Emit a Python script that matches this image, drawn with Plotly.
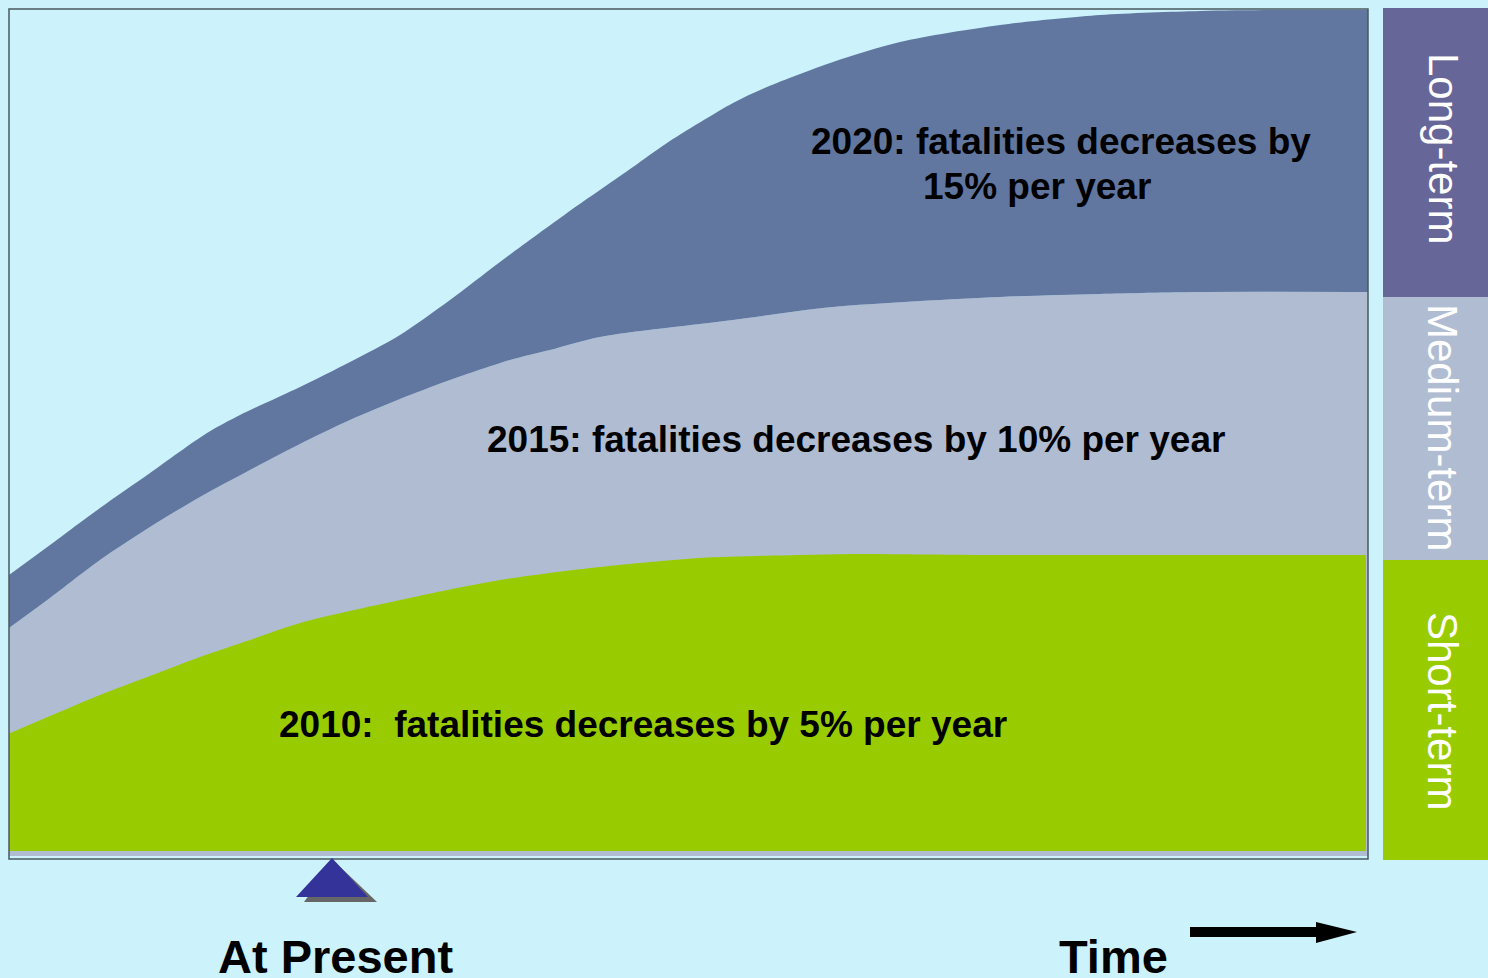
import plotly.graph_objects as go

W, H = 1488, 978

# ---- data (time index vs. level of fatality reduction) ----
time_long = [9, 50, 100, 150, 207, 240, 300, 350, 400, 450, 500, 567, 633, 667, 733, 767, 833, 900, 1000, 1100, 1200, 1280, 1368]
level_long = [284, 314, 351, 386, 426, 444, 472, 497, 524, 559, 597, 646, 692, 716, 756, 772, 797, 817, 834, 844, 848, 849, 849]

time_medium = [9, 50, 100, 150, 200, 250, 300, 350, 400, 450, 510, 550, 600, 733, 833, 1000, 1100, 1200, 1368]
level_medium = [231, 261, 299, 332, 362, 389, 415, 439, 460, 479, 499, 509, 522, 539, 552, 562, 565, 567, 567]
medium_base = 3

time_short = [8, 50, 100, 150, 200, 250, 300, 400, 500, 600, 700, 800, 850, 1000, 1200, 1366]
level_short = [125, 143, 164, 183, 202, 219, 236, 259, 279, 292, 301, 304, 305, 304, 304, 304]
short_base = 8

layer_labels = [
    "2020: fatalities decreases by",
    "15% per year",
    "2015: fatalities decreases by 10% per year",
    "2010:  fatalities decreases by 5% per year",
]
term_labels = ["Long-term", "Medium-term", "Short-term"]
axis_labels = ["At Present", "Time"]

# ---- colours ----
BG = "#CCF3FC"
C_LONG = "#6277A0"
C_MED = "#B0BCD2"
C_SHORT = "#99CC00"
C_PURPLE = "#666699"

fig = go.Figure()

def base_trace(xs, yv):
    return go.Scatter(x=[xs[0], xs[-1]], y=[yv, yv], mode="lines",
                      line=dict(width=0), hoverinfo="skip", showlegend=False)

def band_trace(xs, ys, color):
    return go.Scatter(x=xs, y=ys, mode="lines", fill="tonexty", fillcolor=color,
                      line=dict(width=0, shape="spline", smoothing=0.8),
                      hoverinfo="skip", showlegend=False)

# medium band (from its base up to medium top), then long band on top of it
fig.add_trace(base_trace(time_medium, medium_base))
fig.add_trace(band_trace(time_medium, level_medium, C_MED))
fig.add_trace(band_trace(time_long, level_long, C_LONG))
# short band
fig.add_trace(base_trace(time_short, short_base))
fig.add_trace(band_trace(time_short, level_short, C_SHORT))

def px(x):
    return x / W

def py(y):
    return 1 - y / H

shapes = []
# plot frame
shapes.append(dict(type="rect", xref="paper", yref="paper",
                   x0=px(9), x1=px(1368), y0=py(859), y1=py(9),
                   line=dict(color="#48585e", width=1.5), fillcolor="rgba(0,0,0,0)", layer="above"))
# right-side term bars
shapes.append(dict(type="rect", xref="paper", yref="paper", x0=px(1383), x1=1.0, y0=py(297), y1=py(8),
                   fillcolor=C_PURPLE, line=dict(width=0)))
shapes.append(dict(type="rect", xref="paper", yref="paper", x0=px(1383), x1=1.0, y0=py(560), y1=py(297),
                   fillcolor=C_MED, line=dict(width=0)))
shapes.append(dict(type="rect", xref="paper", yref="paper", x0=px(1383), x1=1.0, y0=py(860), y1=py(560),
                   fillcolor=C_SHORT, line=dict(width=0)))

def tri_path(pts):
    s = "M {} {}".format(px(pts[0][0]), py(pts[0][1]))
    for p in pts[1:]:
        s += " L {} {}".format(px(p[0]), py(p[1]))
    return s + " Z"

# triangle marker with shadow
shapes.append(dict(type="path", xref="paper", yref="paper",
                   path=tri_path([(334, 861), (304, 902), (377, 902)]),
                   fillcolor="#666666", line=dict(width=0)))
shapes.append(dict(type="path", xref="paper", yref="paper",
                   path=tri_path([(332, 858), (296, 897), (368, 897)]),
                   fillcolor="#333399", line=dict(width=0)))
# time arrow
shapes.append(dict(type="path", xref="paper", yref="paper",
                   path=tri_path([(1190, 927), (1316, 927), (1316, 922), (1357, 932),
                                  (1316, 943), (1316, 937), (1190, 937)]),
                   fillcolor="#000000", line=dict(width=0)))

FONT = "Liberation Sans, Arial, sans-serif"
ann = []
def add_text(text, x, y, size, color="#000000", bold=True, angle=0):
    ann.append(dict(text="<b>{}</b>".format(text) if bold else text,
                    x=px(x), y=py(y), xref="paper", yref="paper",
                    xanchor="center", yanchor="middle", showarrow=False,
                    textangle=angle,
                    font=dict(family=FONT, size=size, color=color)))

add_text(layer_labels[0], 1061, 141, 37)
add_text(layer_labels[1], 1037, 186, 37)
add_text(layer_labels[2], 856, 440, 37)
add_text(layer_labels[3], 643, 724, 37)

add_text(term_labels[0], 1443, 148, 42, color="#FFFFFF", bold=False, angle=90)
add_text(term_labels[1], 1443, 427, 42, color="#FFFFFF", bold=False, angle=90)
add_text(term_labels[2], 1443, 711, 42, color="#FFFFFF", bold=False, angle=90)

add_text(axis_labels[0], 335, 956, 47)
add_text(axis_labels[1], 1113, 956, 47)

fig.update_layout(
    width=W, height=H,
    margin=dict(l=0, r=0, t=0, b=0),
    paper_bgcolor=BG, plot_bgcolor=BG,
    xaxis=dict(domain=[px(9), px(1368)], range=[9, 1368], visible=False, fixedrange=True),
    yaxis=dict(domain=[py(859), py(9)], range=[0, 850], visible=False, fixedrange=True),
    shapes=shapes, annotations=ann, showlegend=False,
)

fig.write_html("out.html", config={"displayModeBar": False})
